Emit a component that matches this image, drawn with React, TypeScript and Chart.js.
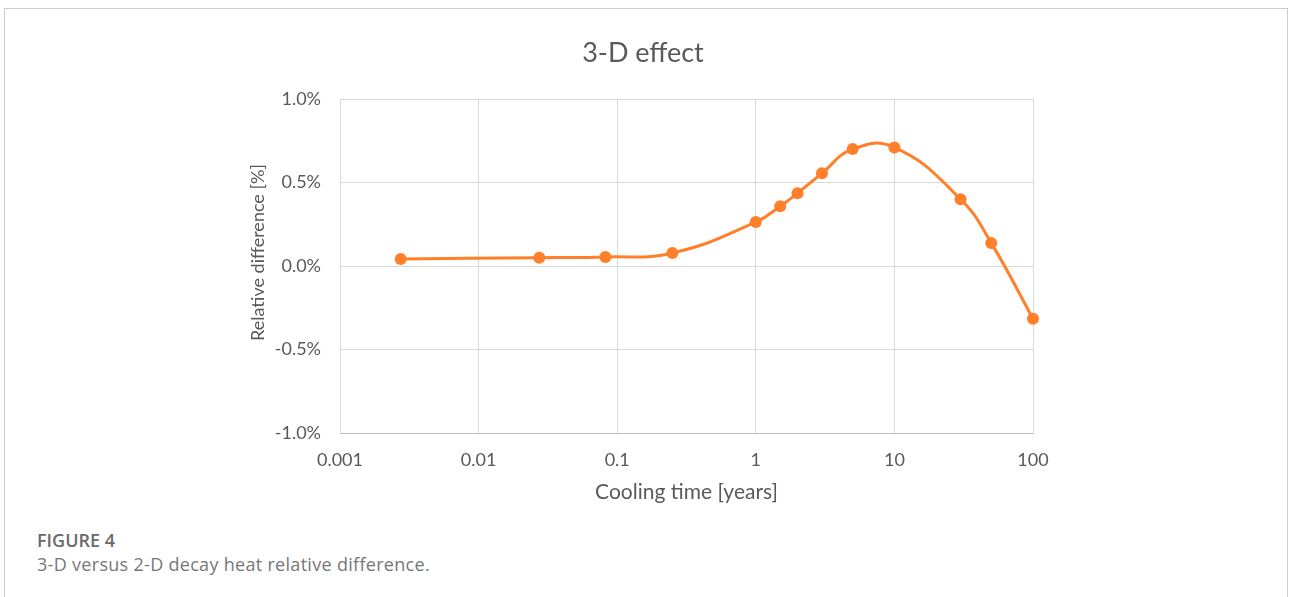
import React, { useEffect, useRef } from "react";
import { Chart, registerables } from "chart.js";

Chart.register(...registerables);

const coolingTimeYears = [0.00274, 0.0274, 0.0822, 0.25, 1, 1.5, 2, 3, 5, 10, 30, 50, 100];
const relativeDifferencePct = [0.042, 0.05, 0.054, 0.078, 0.263, 0.358, 0.436, 0.555, 0.70, 0.71, 0.40, 0.137, -0.316];
const xTickValues = [0.001, 0.01, 0.1, 1, 10, 100];
const xTickLabels = ["0.001", "0.01", "0.1", "1", "10", "100"];
const yTickValues = [-1.0, -0.5, 0.0, 0.5, 1.0];
const yTickLabels = ["-1.0%", "-0.5%", "0.0%", "0.5%", "1.0%"];

const TEXT = "#595959";
const GRID = "#d9d9d9";
const ORANGE = "#FF7F2A";
const FONT = "Lato";

export default function App() {
  const ref = useRef<HTMLCanvasElement | null>(null);

  useEffect(() => {
    if (!ref.current) return;
    const chart = new Chart(ref.current, {
      type: "line",
      data: {
        datasets: [
          {
            label: "3-D effect",
            data: coolingTimeYears.map((x, i) => ({ x, y: relativeDifferencePct[i] })),
            borderColor: ORANGE,
            backgroundColor: ORANGE,
            borderWidth: 3,
            pointRadius: 6,
            pointBorderWidth: 0,
            pointHoverRadius: 6,
            tension: 0.45,
            fill: false,
            clip: false,
          },
        ],
      },
      options: {
        animation: false,
        responsive: false,
        events: [],
        layout: { padding: 0 },
        plugins: {
          legend: { display: false },
          tooltip: { enabled: false },
          title: {
            display: true,
            text: "3-D effect",
            color: TEXT,
            font: { family: FONT, size: 27, weight: "normal" },
            padding: { top: 36.3, bottom: 29.3 },
          },
        },
        scales: {
          x: {
            type: "logarithmic",
            min: 0.001,
            max: 100,
            afterBuildTicks: (s: any) => {
              s.ticks = xTickValues.map((v) => ({ value: v }));
            },
            afterFit: (s: any) => {
              s.height = 87;
            },
            ticks: {
              color: TEXT,
              font: { family: FONT, size: 18 },
              padding: 16,
              maxRotation: 0,
              autoSkip: false,
              callback: (v: any) => {
                const i = xTickValues.findIndex((t) => Math.abs(Math.log10(t) - Math.log10(Number(v))) < 1e-6);
                return i >= 0 ? xTickLabels[i] : "";
              },
            },
            grid: { color: GRID, lineWidth: 1, drawTicks: false },
            border: { color: "#bfbfbf", width: 1 },
            title: {
              display: true,
              text: "Cooling time [years]",
              color: TEXT,
              font: { family: FONT, size: 21 },
              padding: { top: 0, bottom: 15.4 },
            },
          },
          y: {
            min: -1,
            max: 1,
            afterBuildTicks: (s: any) => {
              s.ticks = yTickValues.map((v) => ({ value: v }));
            },
            afterFit: (s: any) => {
              s.width = 339;
            },
            ticks: {
              color: TEXT,
              font: { family: FONT, size: 18 },
              padding: 19,
              callback: (v: any) => {
                const i = yTickValues.findIndex((t) => Math.abs(t - Number(v)) < 1e-6);
                return i >= 0 ? yTickLabels[i] : "";
              },
            },
            grid: { color: GRID, lineWidth: 1, drawTicks: false },
            border: { color: GRID, width: 1 },
            title: {
              display: true,
              text: "\u2002\u2002\u2002Relative difference [%]",
              color: TEXT,
              font: { family: FONT, size: 18 },
              padding: { top: 246, bottom: 0 },
            },
          },
          yRight: {
            position: "right",
            display: true,
            min: -1,
            max: 1,
            ticks: { display: false },
            grid: { display: false, drawTicks: false },
            border: { display: false },
            afterFit: (s: any) => {
              s.width = 252;
            },
          },
        },
      },
    });
    return () => chart.destroy();
  }, []);

  return (
    <div
      style={{
        position: "absolute",
        left: 4,
        top: 8,
        width: 1284,
        height: 600,
        border: "1px solid #cccccc",
        boxSizing: "border-box",
        background: "#fff",
      }}
    >
      <canvas
        ref={ref}
        width={1284}
        height={519}
        style={{ position: "absolute", left: -4, top: -8, width: 1284, height: 519 }}
      />
      <div
        style={{
          position: "absolute",
          left: 32,
          top: 519,
          fontFamily: "'Open Sans', sans-serif",
          fontSize: 18,
          fontWeight: 600,
          color: "#6a6a6a",
          lineHeight: "24px",
        }}
      >
        FIGURE 4
      </div>
      <div
        style={{
          position: "absolute",
          left: 32,
          top: 543,
          fontFamily: "'Open Sans', sans-serif",
          fontSize: 18,
          letterSpacing: "0.3px",
          color: "#777777",
          lineHeight: "24px",
        }}
      >
        3-D versus 2-D decay heat relative difference.
      </div>
    </div>
  );
}
